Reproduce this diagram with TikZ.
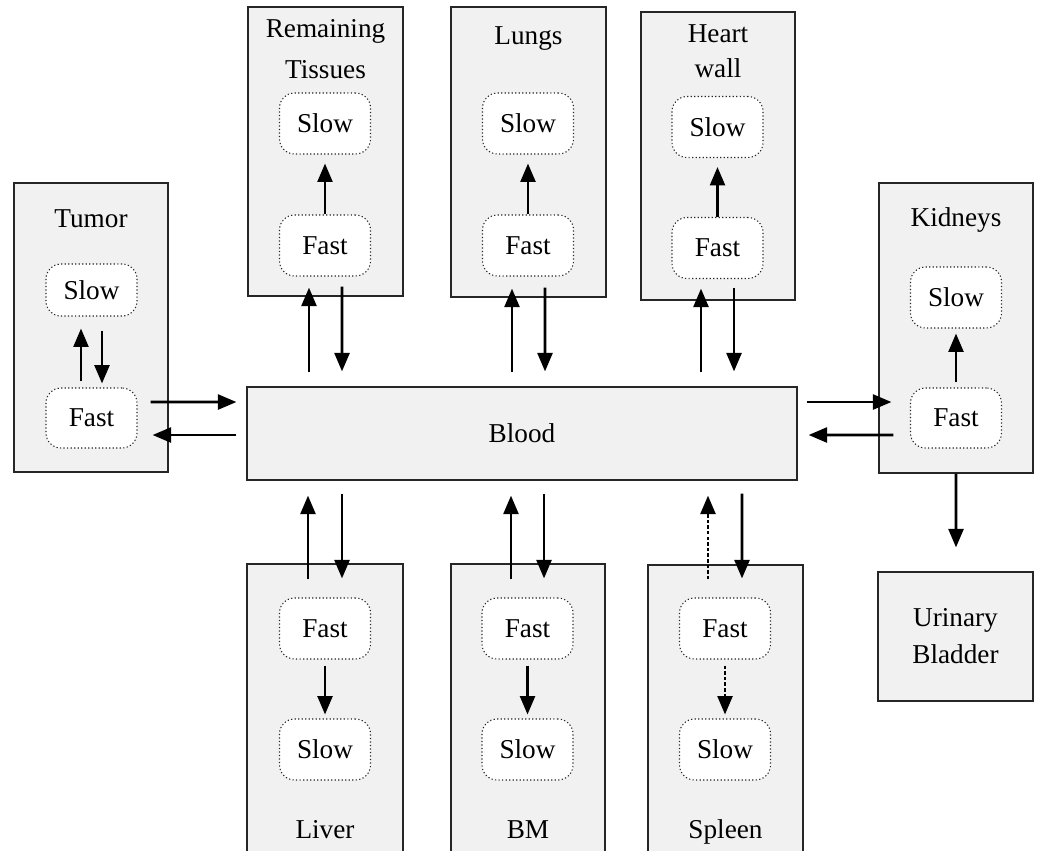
\documentclass[tikz,border=0pt]{standalone}
\usepackage{fontspec}
\setmainfont{Liberation Serif}
\usetikzlibrary{arrows.meta}
\definecolor{boxfill}{HTML}{F1F1F1}
\tikzset{
  sz/.style 2 args={minimum width=#1*0.02cm, minimum height=#2*0.02cm},
  organ/.style={draw=black!85, line width=0.7pt, fill=boxfill, inner sep=0pt},
  comp/.style={draw=black!85, line width=0.6pt, dash pattern=on 0.7pt off 1.3pt, fill=white, rounded corners=0.3cm, inner sep=0pt, sz={91}{61}},
  lbl/.style={anchor=base, inner sep=0pt},
  arr/.style={line width=1.5pt, -{Triangle[length=10.5pt,width=8.5pt]}},
  darr/.style={arr, dash pattern=on 2pt off 1.2pt},
}
\begin{document}
\begin{tikzpicture}[x=0.02cm, y=-0.02cm, font=\fontsize{15.5}{21}\selectfont]
\clip (0,0) rectangle (1037,850);
% organ boxes
\node[organ, sz={154}{289}] (tumor) at (91,327.5) {};
\node[organ, sz={155}{289}] (rt) at (325.5,151.5) {};
\node[organ, sz={155}{290}] (lungs) at (528.5,152) {};
\node[organ, sz={154}{288}] (heart) at (718,156) {};
\node[organ, sz={154}{290}] (kid) at (956,328) {};
\node[organ, sz={550}{93}] (blood) at (522,433.5) {Blood};
\node[organ, sz={155}{129}, align=center] (bladder) at (955.5,636.5) {Urinary\\Bladder};
\node[organ, sz={156}{316}] (liver) at (325,722) {};
\node[organ, sz={154}{316}] (bm) at (528,722) {};
\node[organ, sz={155}{315}] (spleen) at (725.5,722.5) {};
% labels
\node[lbl] (tumorlbl) at (91,227) {Tumor};
\node[lbl] (kidlbl) at (956,226) {Kidneys};
\node[lbl] (lungslbl) at (528.5,44) {Lungs};
\node[lbl] (rtlbl1) at (325.5,37) {Remaining};
\node[lbl] (rtlbl2) at (325.5,78) {Tissues};
\node[lbl] (heartlbl1) at (718,42) {Heart};
\node[lbl] (heartlbl2) at (718,77) {wall};
\node[lbl] (liverlbl) at (325,838) {Liver};
\node[lbl] (bmlbl) at (528,838) {BM};
\node[lbl] (spleenlbl) at (725.5,838) {Spleen};
% compartments
\node[comp, sz={91}{52}] (ts) at (91.5,290) {Slow};
\node[comp, sz={91}{60}] (tf) at (91.5,418) {Fast};
\node[comp] (rts) at (325,123.5) {Slow};
\node[comp] (rtf) at (325,245.5) {Fast};
\node[comp] (ls) at (528,123.5) {Slow};
\node[comp] (lf) at (528,245.5) {Fast};
\node[comp] (hs) at (717.5,127) {Slow};
\node[comp] (hf) at (717.5,248) {Fast};
\node[comp] (ks) at (956,297.5) {Slow};
\node[comp, sz={91}{60}] (kf) at (956,418) {Fast};
\node[comp] (livf) at (325,628.5) {Fast};
\node[comp] (livs) at (325,749.5) {Slow};
\node[comp] (bmf) at (527.5,628.5) {Fast};
\node[comp] (bms) at (527.5,749.5) {Slow};
\node[comp] (spf) at (725,628.5) {Fast};
\node[comp] (sps) at (725,749.5) {Slow};
% inner arrows
\draw[arr] ([shift={(-10.5,-6)}]tf.north) -- ([shift={(-10.5,12)}]ts.south);
\draw[arr] ([shift={(10.5,14)}]ts.south) -- ([shift={(10.5,-4)}]tf.north);
\draw[arr] (rtf.north) -- ([shift={(0,9)}]rts.south);
\draw[arr] (lf.north) -- ([shift={(0,9)}]ls.south);
\draw[arr] (hf.north) -- ([shift={(0,9)}]hs.south);
\draw[arr] ([shift={(0,-5)}]kf.north) -- ([shift={(0,5)}]ks.south);
\draw[arr] ([shift={(0,6)}]livf.south) -- ([shift={(0,-4)}]livs.north);
\draw[arr] ([shift={(0,6)}]bmf.south) -- ([shift={(0,-4)}]bms.north);
\draw[darr] ([shift={(0,6)}]spf.south) -- ([shift={(0,-4)}]sps.north);
% blood exchanges (top)
\draw[arr] ([shift={(-213,-14)}]blood.north) -- ([shift={(-16.5,-9)}]rt.south);
\draw[arr] ([shift={(16.5,-10)}]rt.south) -- ([shift={(-180,-15)}]blood.north);
\draw[arr] ([shift={(-10,-14)}]blood.north) -- ([shift={(-16.5,-9)}]lungs.south);
\draw[arr] ([shift={(16.5,-10)}]lungs.south) -- ([shift={(23,-15)}]blood.north);
\draw[arr] ([shift={(179,-14)}]blood.north) -- ([shift={(-17,-12)}]heart.south);
\draw[arr] ([shift={(16,-13)}]heart.south) -- ([shift={(212,-15)}]blood.north);
% tumor and kidneys
\draw[arr] ([shift={(-18,74.5)}]tumor.east) -- ([shift={(-10,-31.5)}]blood.west);
\draw[arr] ([shift={(-10,1.5)}]blood.west) -- ([shift={(-16,107.5)}]tumor.east);
\draw[arr] ([shift={(9,-31.5)}]blood.east) -- ([shift={(13,74)}]kid.west);
\draw[arr] ([shift={(15,107)}]kid.west) -- ([shift={(11,1.5)}]blood.east);
\draw[arr] (kid.south) -- ([shift={(0.5,-24)}]bladder.north);
% blood exchanges (bottom)
\draw[arr] ([shift={(-17,16)}]liver.north) -- ([shift={(-214,15)}]blood.south);
\draw[arr] ([shift={(-180,13)}]blood.south) -- ([shift={(17,15)}]liver.north);
\draw[arr] ([shift={(-17,16)}]bm.north) -- ([shift={(-11,15)}]blood.south);
\draw[arr] ([shift={(22,13)}]blood.south) -- ([shift={(16,15)}]bm.north);
\draw[darr] ([shift={(-17.5,15)}]spleen.north) -- ([shift={(186,15)}]blood.south);
\draw[arr] ([shift={(220,13)}]blood.south) -- ([shift={(16.5,14)}]spleen.north);
\end{tikzpicture}
\end{document}
